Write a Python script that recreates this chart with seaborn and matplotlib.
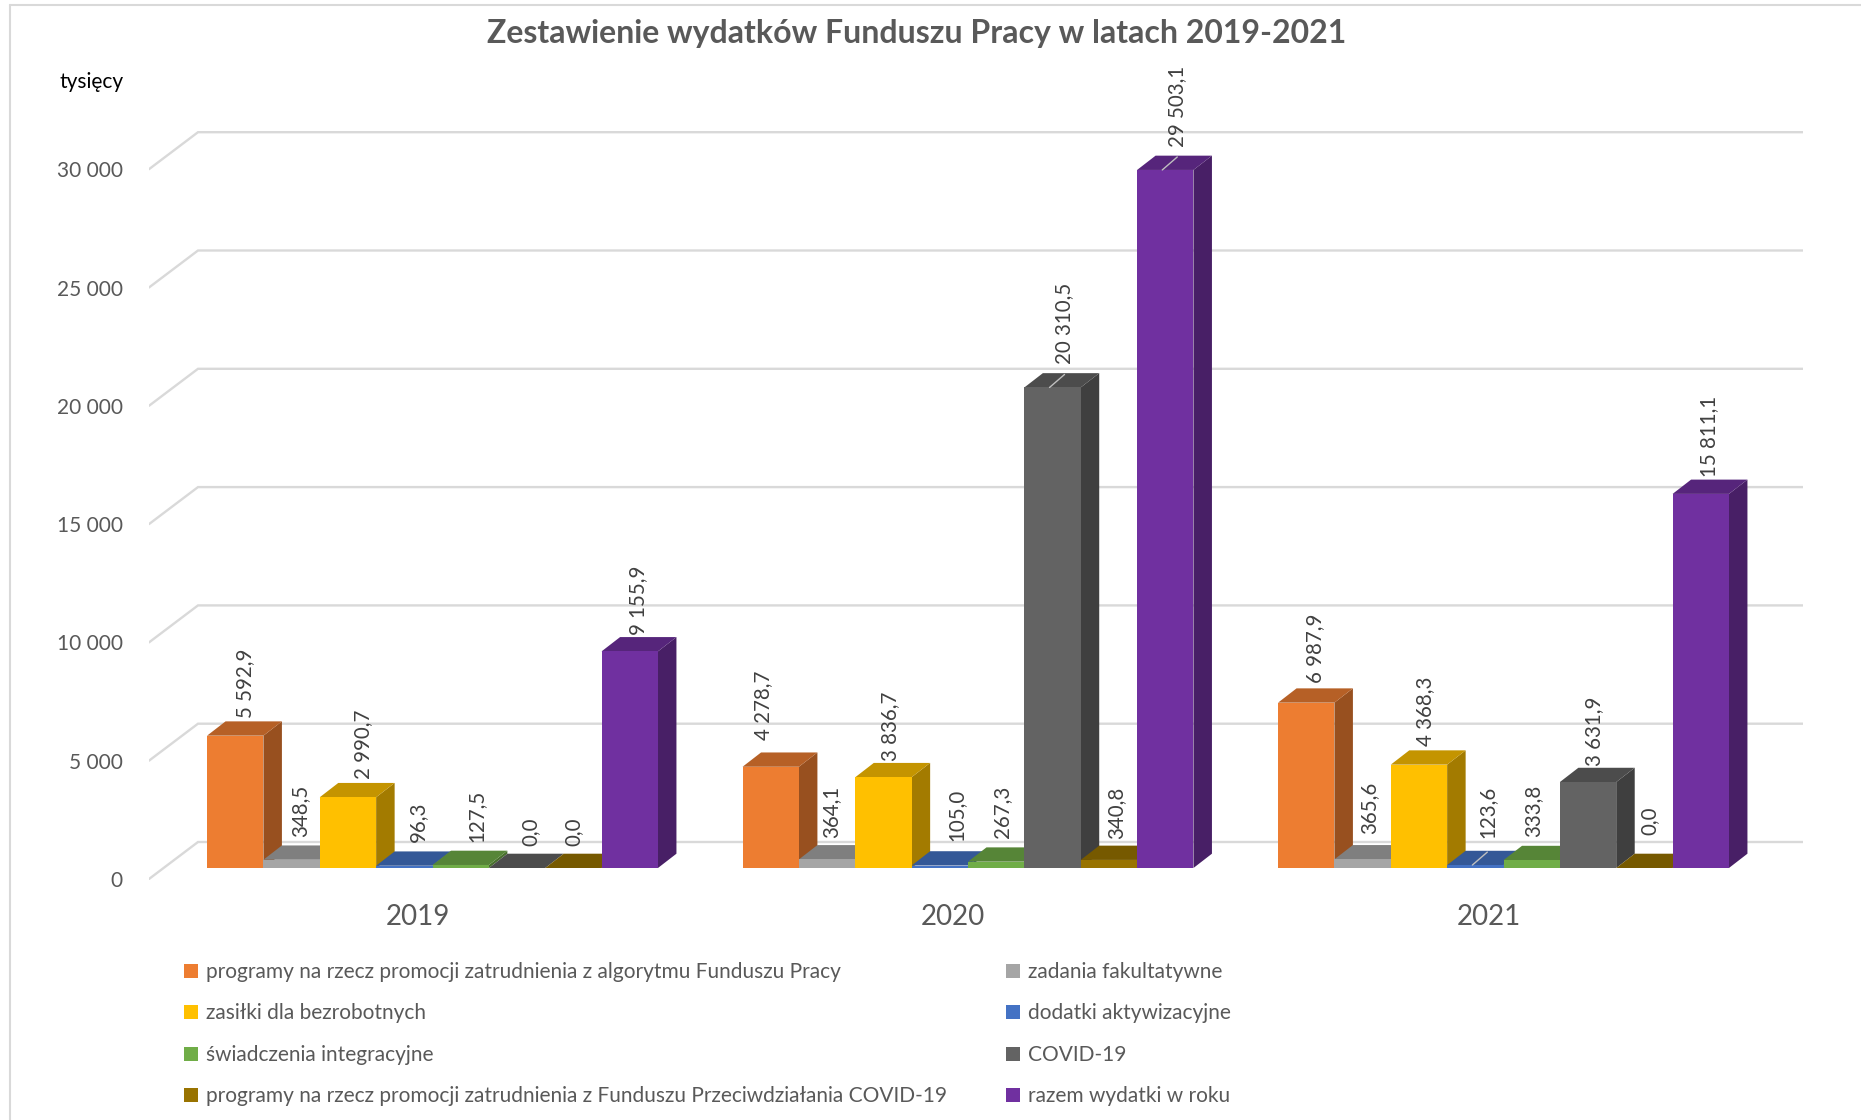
import matplotlib
matplotlib.use('Agg')
import matplotlib.pyplot as plt
import matplotlib.transforms as mtrans
from matplotlib.colors import to_rgb
from matplotlib.lines import Line2D
from matplotlib.patches import Patch, Polygon
import pandas as pd
import seaborn as sns

lata = ['2019', '2020', '2021']
wydatki = [
    'programy na rzecz promocji zatrudnienia z algorytmu Funduszu Pracy',
    'zadania fakultatywne',
    'zasiłki dla bezrobotnych',
    'dodatki aktywizacyjne',
    'świadczenia integracyjne',
    'COVID-19',
    'programy na rzecz promocji zatrudnienia z Funduszu Przeciwdziałania COVID-19',
    'razem wydatki w roku',
]
w_2019 = [5592.9, 348.5, 2990.7, 96.3, 127.5, 0.0, 0.0, 9155.9]
w_2020 = [4278.7, 364.1, 3836.7, 105.0, 267.3, 20310.5, 340.8, 29503.1]
w_2021 = [6987.9, 365.6, 4368.3, 123.6, 333.8, 3631.9, 0.0, 15811.1]
kolory = ['#ED7D31', '#A5A5A5', '#FFC000', '#4472C4', '#70AD47', '#636363', '#997300', '#7030A0']
y_ticks = [0, 5000, 10000, 15000, 20000, 25000, 30000]

# przesuniecia etykiet wzgledem slupka (piksele)
label_dx = [10, 9, 15, 14, 16, 13, 0, 8,
            -8, 4, 7, 17, 6, 12, 7, 12,
            9, 7, 6, 12, 2, 6, 5, 8]
label_dy = [18, 23, 18, 24, 23, 22, 22, 16,
            27, 21, 16, 25, 24, 23, 21, 23,
            20, 25, 19, 27, 23, 16, 33, 17]
leaders = [13, 15, 19]

W, H = 1861, 1120
PX_X = 1 / 535.5      # jednostki osi x na piksel
PX_Y = 1 / 0.02366    # jednostki osi y na piksel
CAT0_PX = 432.5
BASE_PX = 868
AX_L, AX_R, AX_T, AX_B = 149, 1803, 60, 880
DEPTH_X, DEPTH_Y = 18.5 * PX_X, 14.3 * PX_Y

sns.set_theme(style='white')
plt.rcParams['font.family'] = ['Lato', 'DejaVu Sans']

df = pd.DataFrame({'wydatek': wydatki, '2019': w_2019, '2020': w_2020, '2021': w_2021})
df = df.melt(id_vars='wydatek', var_name='rok', value_name='wartosc')

fig = plt.figure(figsize=(W / 100, H / 100), dpi=100)
ax = fig.add_axes([AX_L / W, 1 - AX_B / H, (AX_R - AX_L) / W, (AX_B - AX_T) / H])
sns.barplot(data=df, x='rok', y='wartosc', hue='wydatek', order=lata, hue_order=wydatki,
            palette=kolory, width=0.842, gap=0, saturation=1, linewidth=0,
            legend=False, ax=ax)
ax.set_xlim((AX_L - CAT0_PX) * PX_X, (AX_R - CAT0_PX) * PX_X)
ax.set_ylim((BASE_PX - AX_B) * PX_Y, (BASE_PX - AX_T) * PX_Y)
ax.set_xlabel('')
ax.set_ylabel('')
sns.despine(ax=ax, left=True, bottom=True)

# siatka: tylna sciana i skosy do etykiet osi
x0 = ax.get_xlim()[0]
x_back = x0 + 49 * PX_X
x_end = ax.get_xlim()[1]
for v in y_ticks:
    ax.plot([x0, x_back, x_end], [v - 11 * PX_Y, v + 26 * PX_Y, v + 26 * PX_Y],
            color='#D9D9D9', lw=1.7, zorder=1, solid_joinstyle='miter')

# slupki 3D: od lewej do prawej, kazdy przykrywa poprzedni
bars = sorted([p for p in ax.patches], key=lambda p: p.get_x())
for i, bar in enumerate(bars):
    x, w, h = bar.get_x(), bar.get_width(), bar.get_height()
    kolor = to_rgb(kolory[i % 8])
    z = 3 + i * 0.1
    top = [(x, h), (x + w, h), (x + w + DEPTH_X, h + DEPTH_Y), (x + DEPTH_X, h + DEPTH_Y)]
    side = [(x + w, 0), (x + w + DEPTH_X, DEPTH_Y), (x + w + DEPTH_X, h + DEPTH_Y), (x + w, h)]
    ax.add_patch(Polygon(side, closed=True, lw=0, zorder=z, clip_on=False,
                         facecolor=[c * 0.64 for c in kolor]))
    ax.add_patch(Polygon(top, closed=True, lw=0, zorder=z, clip_on=False,
                         facecolor=[c * 0.77 for c in kolor]))
    bar.set_zorder(z + 0.01)

    # etykieta wartosci
    tekst = f'{h:,.1f}'.replace(',', ' ').replace('.', ',')
    lx = x + w / 2 + label_dx[i] * PX_X
    ly = h + label_dy[i] * PX_Y
    ax.text(lx, ly, tekst, rotation=90, ha='center', va='bottom', fontsize=14.8,
            color='#404040', zorder=10, clip_on=False)
    if i in leaders:
        ax.plot([lx - 15 * PX_X, lx], [h, h + 13 * PX_Y], color='#BFBFBF', lw=1, zorder=10)

# osie
ax.set_yticks(y_ticks)
ax.set_yticklabels([f'{v:,}'.replace(',', ' ') for v in y_ticks])
ax.tick_params(axis='y', length=0, pad=19, labelsize=15, labelcolor='#595959')
ax.tick_params(axis='x', length=0, pad=17, labelsize=20, labelcolor='#595959')
y_shift = mtrans.Affine2D().translate(0, -11)
for lab in ax.get_yticklabels():
    lab.set_transform(lab.get_transform() + y_shift)
x_shift = mtrans.Affine2D().translate(-15, 0)
for lab in ax.get_xticklabels():
    lab.set_transform(lab.get_transform() + x_shift)

# legenda: wiersze jak w oryginale, kolumny w matplotlib ida z gory na dol
kolejnosc = [0, 2, 4, 6, 1, 3, 5, 7]
uchwyty = [Patch(facecolor=kolory[i], label=wydatki[i], lw=0) for i in kolejnosc]
fig.legend(handles=uchwyty, ncol=2, loc='upper left', bbox_to_anchor=(184 / W, 1 - 962 / H),
           bbox_transform=fig.transFigure, frameon=False, fontsize=15, labelcolor='#595959',
           handlelength=0.67, handleheight=0.67, handletextpad=0.4, columnspacing=2.8,
           labelspacing=1.03, borderpad=0, borderaxespad=0)

fig.text(917 / W, 1 - 34 / H, 'Zestawienie wydatków Funduszu Pracy w latach 2019-2021',
         ha='center', va='center', fontsize=23, fontweight='bold', color='#595959')
fig.text(60 / W, 1 - 82 / H, 'tysięcy', ha='left', va='center', fontsize=15, color='black')

# ramka obrazka
fig.add_artist(Line2D([10 / W, 10 / W], [0, 1 - 5 / H], color='#D9D9D9', lw=1.5))
fig.add_artist(Line2D([10 / W, 1], [1 - 5 / H, 1 - 5 / H], color='#D9D9D9', lw=1.5))

fig.savefig('out.png', dpi=100, facecolor='white')
